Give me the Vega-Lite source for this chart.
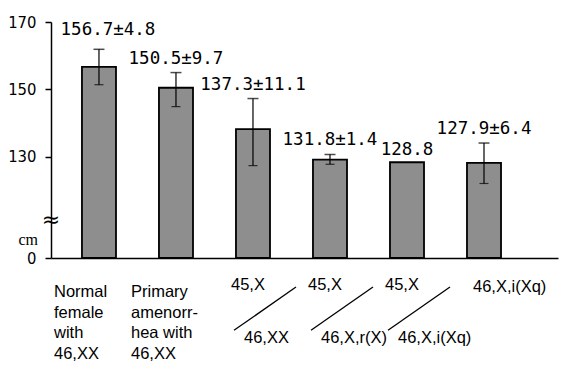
{
  "$schema": "https://vega.github.io/schema/vega-lite/v6.json",
  "padding": {"left": 7, "top": 14, "right": 5, "bottom": 5},
  "background": "white",
  "width": 507,
  "height": 236,
  "config": {
    "view": {"stroke": null},
    "axis": {"grid": false}
  },
  "datasets": {
    "bars": [
      {"group": "Normal 46,XX", "height": 156.7, "lo": 151.4, "hi": 161.9, "label": "156.7±4.8"},
      {"group": "Primary amenorrhea 46,XX", "height": 150.5, "lo": 144.9, "hi": 155.0, "label": "150.5±9.7"},
      {"group": "45,X/46,XX", "height": 138.2, "lo": 127.4, "hi": 147.3, "label": "137.3±11.1"},
      {"group": "45,X/46,X,r(X)", "height": 129.2, "lo": 127.8, "hi": 130.7, "label": "131.8±1.4"},
      {"group": "45,X/46,X,i(Xq)", "height": 128.4, "lo": null, "hi": null, "label": "128.8"},
      {"group": "46,X,i(Xq)", "height": 128.2, "lo": 122.1, "hi": 134.1, "label": "127.9±6.4"}
    ],
    "axismarks": [
      {"group": "Normal 46,XX", "value": 111.2, "text": "≈"},
      {"group": "Normal 46,XX", "value": 105.2, "text": "cm"}
    ],
    "lines": [
      {"group": "Normal 46,XX", "line": 1, "text": "Normal"},
      {"group": "Normal 46,XX", "line": 2, "text": "female"},
      {"group": "Normal 46,XX", "line": 3, "text": "with"},
      {"group": "Normal 46,XX", "line": 4, "text": "46,XX"},
      {"group": "Primary amenorrhea 46,XX", "line": 1, "text": "Primary"},
      {"group": "Primary amenorrhea 46,XX", "line": 2, "text": "amenorr-"},
      {"group": "Primary amenorrhea 46,XX", "line": 3, "text": "hea with"},
      {"group": "Primary amenorrhea 46,XX", "line": 4, "text": "46,XX"}
    ],
    "mosaic": [
      {"group": "45,X/46,XX", "num": "45,X", "den": "46,XX", "from": 3, "to": 1},
      {"group": "45,X/46,X,r(X)", "num": "45,X", "den": "46,X,r(X)", "from": 3, "to": 1},
      {"group": "45,X/46,X,i(Xq)", "num": "45,X", "den": "46,X,i(Xq)", "from": 3, "to": 1}
    ],
    "single": [
      {"group": "46,X,i(Xq)", "line": 1, "text": "46,X,i(Xq)"}
    ]
  },
  "encoding": {
    "x": {
      "field": "group", "type": "nominal", "sort": null,
      "scale": {
        "domain": ["Normal 46,XX", "Primary amenorrhea 46,XX", "45,X/46,XX", "45,X/46,X,r(X)", "45,X/46,X,i(Xq)", "46,X,i(Xq)"],
        "paddingInner": 0.558, "paddingOuter": 0.571, "align": 0.352
      },
      "axis": {"labels": false, "ticks": false, "title": null, "domainColor": "black", "domainWidth": 1.6}
    }
  },
  "resolve": {"scale": {"y": "independent"}, "axis": {"y": "independent"}},
  "layer": [
    {
      "data": {"name": "bars"},
      "layer": [
        {
          "mark": {"type": "bar", "fill": "#8e8e8e", "stroke": "black", "strokeWidth": 1.8},
          "encoding": {
            "y": {
              "field": "height", "type": "quantitative",
              "scale": {"domain": [100, 170], "nice": false, "zero": false},
              "axis": {
                "orient": "left",
                "zindex": 1,
                "title": null,
                "values": [100, 120, 130, 140, 150, 160, 170],
                "labelExpr": "datum.value < 101 ? '0' : datum.label",
                "labelOverlap": false,
                "domainColor": "#000000", "domainWidth": 1.5,
                "tickColor": "#000000", "tickWidth": 1.5, "tickSize": 6,
                "labelColor": "#000000", "labelFont": "DejaVu Sans Condensed", "labelFontSize": 16.5, "labelPadding": 9
              }
            },
            "y2": {"datum": 100}
          }
        },
        {
          "data": {"name": "axismarks"},
          "transform": [{"filter": "datum.text == '≈'"}],
          "mark": {"type": "text", "font": "DejaVu Sans", "fontSize": 22, "align": "center", "baseline": "middle", "dx": -31, "color": "black"},
          "encoding": {
            "x": {"field": "group", "type": "nominal", "bandPosition": 0},
            "y": {"field": "value", "type": "quantitative"},
            "text": {"field": "text"}
          }
        },
        {
          "data": {"name": "axismarks"},
          "transform": [{"filter": "datum.text == 'cm'"}],
          "mark": {"type": "text", "font": "Liberation Serif", "fontSize": 16, "align": "right", "baseline": "middle", "dx": -44, "color": "black"},
          "encoding": {
            "x": {"field": "group", "type": "nominal", "bandPosition": 0},
            "y": {"field": "value", "type": "quantitative"},
            "text": {"field": "text"}
          }
        },
        {
          "transform": [{"filter": "datum.lo != null"}],
          "mark": {"type": "rule", "color": "black", "strokeWidth": 1.2},
          "encoding": {
            "y": {"field": "lo", "type": "quantitative"},
            "y2": {"field": "hi"}
          }
        },
        {
          "transform": [{"filter": "datum.lo != null"}],
          "mark": {"type": "tick", "color": "black", "size": 11, "thickness": 1.5},
          "encoding": {"y": {"field": "hi", "type": "quantitative"}}
        },
        {
          "transform": [{"filter": "datum.lo != null"}],
          "mark": {"type": "tick", "color": "black", "size": 9, "thickness": 1.2},
          "encoding": {"y": {"field": "lo", "type": "quantitative"}}
        },
        {
          "transform": [{"filter": "datum.lo != null && datum.group != 'Normal 46,XX'"}],
          "mark": {"type": "text", "font": "DejaVu Sans Mono", "fontSize": 17.5, "baseline": "alphabetic", "dy": -9, "color": "black"},
          "encoding": {"y": {"field": "hi", "type": "quantitative"}, "text": {"field": "label"}}
        },
        {
          "transform": [{"filter": "datum.group == 'Normal 46,XX'"}],
          "mark": {"type": "text", "font": "DejaVu Sans Mono", "fontSize": 17.5, "baseline": "alphabetic", "dy": -14, "dx": 9, "color": "black"},
          "encoding": {"y": {"field": "hi", "type": "quantitative"}, "text": {"field": "label"}}
        },
        {
          "transform": [{"filter": "datum.lo == null"}],
          "mark": {"type": "text", "font": "DejaVu Sans Mono", "fontSize": 17.5, "baseline": "alphabetic", "dy": -7, "color": "black"},
          "encoding": {"y": {"field": "height", "type": "quantitative"}, "text": {"field": "label"}}
        }
      ]
    },
    {
      "layer": [
        {
          "data": {"name": "lines"},
          "mark": {"type": "text", "font": "Liberation Sans", "fontSize": 16.5, "align": "left", "baseline": "middle", "dx": -45, "color": "black"},
          "encoding": {
            "y": {"field": "line", "type": "quantitative", "scale": {"domain": [1, 4], "range": [270, 332], "nice": false, "zero": false}, "axis": null},
            "text": {"field": "text"}
          }
        },
        {
          "data": {"name": "mosaic"},
          "mark": {"type": "text", "font": "Liberation Sans", "fontSize": 16.5, "align": "left", "baseline": "middle", "dx": -22, "dy": -7, "color": "black"},
          "encoding": {
            "y": {"field": "to", "type": "quantitative", "axis": null},
            "text": {"field": "num"}
          }
        },
        {
          "data": {"name": "mosaic"},
          "mark": {"type": "text", "font": "Liberation Sans", "fontSize": 16.5, "align": "left", "baseline": "middle", "dx": -9, "dy": 5, "color": "black"},
          "encoding": {
            "y": {"field": "from", "type": "quantitative", "axis": null},
            "text": {"field": "den"}
          }
        },
        {
          "data": {"name": "mosaic"},
          "mark": {"type": "rule", "color": "black", "strokeWidth": 1.3, "xOffset": -19, "x2Offset": 43, "yOffset": -3, "y2Offset": -5},
          "encoding": {
            "x2": {"field": "group"},
            "y": {"field": "from", "type": "quantitative", "axis": null},
            "y2": {"field": "to"}
          }
        },
        {
          "data": {"name": "single"},
          "mark": {"type": "text", "font": "Liberation Sans", "fontSize": 16.5, "align": "left", "baseline": "middle", "dx": -11, "dy": -5, "color": "black"},
          "encoding": {
            "y": {"field": "line", "type": "quantitative", "axis": null},
            "text": {"field": "text"}
          }
        }
      ]
    }
  ]
}
